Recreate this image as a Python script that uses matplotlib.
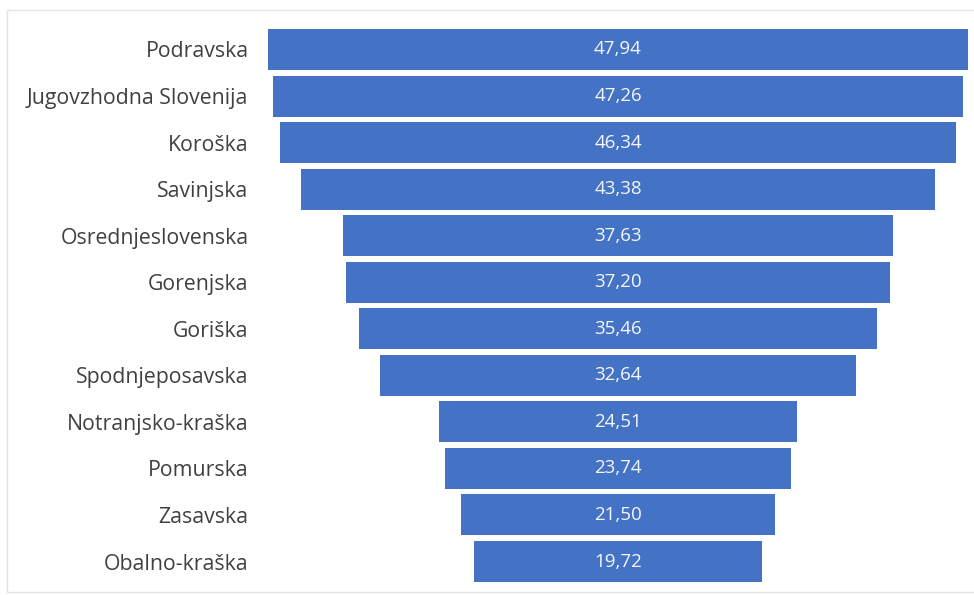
import matplotlib.pyplot as plt
from matplotlib.patches import Rectangle

regions = ["Podravska", "Jugovzhodna Slovenija", "Koroška", "Savinjska",
           "Osrednjeslovenska", "Gorenjska", "Goriška", "Spodnjeposavska",
           "Notranjsko-kraška", "Pomurska", "Zasavska", "Obalno-kraška"]
values = [47.94, 47.26, 46.34, 43.38, 37.63, 37.20, 35.46, 32.64,
          24.51, 23.74, 21.50, 19.72]

plt.rcParams['font.family'] = ['Open Sans', 'DejaVu Sans']

fig = plt.figure(figsize=(9.74, 5.95), dpi=100)
fig.patches.append(Rectangle((7 / 974, 0.005), 1, 1 - 10 / 595 - 0.005,
                             transform=fig.transFigure, fill=False,
                             edgecolor="#e4e4e4", lw=1))
ax = fig.add_axes([268 / 974, 1 - 584.8 / 595, 700 / 974, (584.8 - 26.2) / 595])

y = list(range(len(values)))
lefts = [-v / 2 for v in values]
ax.barh(y, values, left=lefts, height=0.88, color="#4472C4")

for i, v in enumerate(values):
    ax.text(0, i, f"{v:.2f}".replace(".", ","), ha="center", va="center",
            color="#f4f8ff", fontsize=13.5)

ax.set_xlim(-values[0] / 2, values[0] / 2)
ax.set_ylim(len(values) - 0.5, -0.5)
ax.set_yticks(y)
ax.set_yticklabels(regions, fontsize=15.3, color="#404040")
ax.tick_params(axis="y", length=0, pad=14)
ax.set_xticks([])
for s in ax.spines.values():
    s.set_visible(False)

fig.savefig("out.png", dpi=100)
